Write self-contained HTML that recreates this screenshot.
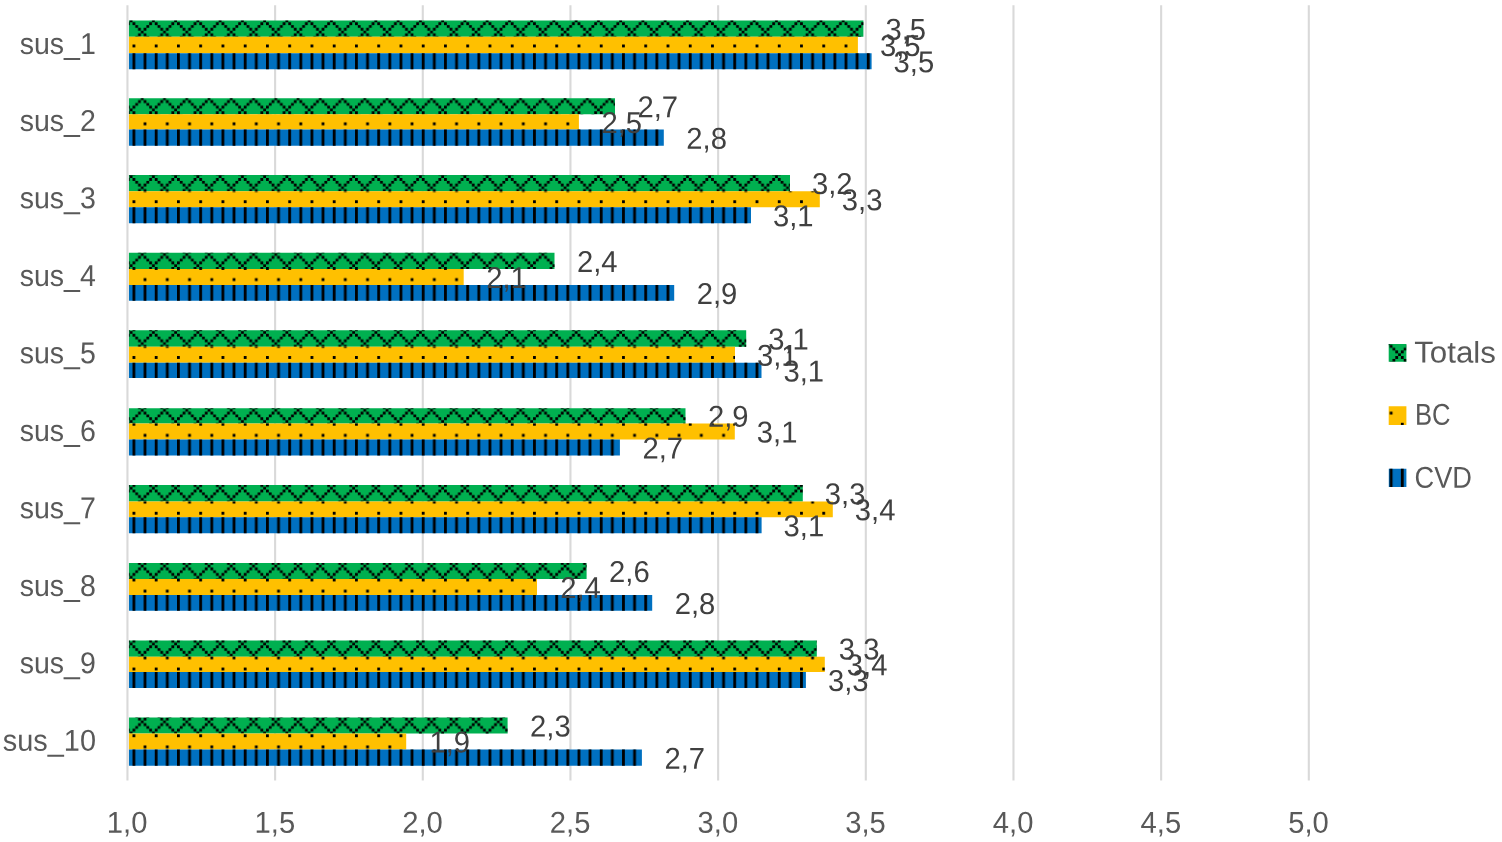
<!DOCTYPE html>
<html lang="en">
<head>
<meta charset="utf-8">
<title>SUS item scores: Totals, BC, CVD</title>
<style>
html,body{margin:0;padding:0;background:#fff}
body{width:1502px;height:842px;overflow:hidden}
svg{display:block}
text{font-family:"Liberation Sans",sans-serif;font-size:30.2px;text-rendering:geometricPrecision}
.ax{fill:#595959}
.dl{fill:#404040}
</style>
</head>
<body>
<svg width="1502" height="842" viewBox="0 0 1502 842" role="img" aria-label="Horizontal bar chart of SUS item scores">
<defs>
<pattern id="pg" patternUnits="userSpaceOnUse" width="8" height="8" patternTransform="translate(-1 0) scale(2.7815)"><path fill="#000" d="M0 0h1v1h-1zM6 0h1v1h-1zM1 1h1v1h-1zM5 1h1v1h-1zM2 2h1v1h-1zM4 2h1v1h-1zM3 3h1v1h-1zM2 4h1v1h-1zM4 4h1v1h-1zM1 5h1v1h-1zM5 5h1v1h-1zM0 6h1v1h-1zM6 6h1v1h-1zM7 7h1v1h-1z"/></pattern>
<clipPath id="cpg"><path d="M128.9 20.5h734.5v16.3h-734.5zM128.9 98.13h486.1v16.17h-486.1zM128.9 175h661.1v16.17h-661.1zM128.9 252.86h425.6v16.24h-425.6zM128.9 330.2h617.3v16.44h-617.3zM128.9 408.13h556.6v15.31h-556.6zM128.9 485h673.9v16.44h-673.9zM128.9 562.99h457.7v16.11h-457.7zM128.9 640.46h687.9v16.18h-687.9zM128.9 717.6h378.7v16h-378.7zM1388.7 344h17.7v17.8h-17.7z"/></clipPath>
<pattern id="py" patternUnits="userSpaceOnUse" width="8" height="8" patternTransform="translate(-1 0) scale(2.7815)"><path fill="#000" d="M0 0h1v1h-1zM4 4h1v1h-1z"/></pattern>
<clipPath id="cpy"><path d="M128.9 36.8h729v16.35h-729zM128.9 114.3h450v15.32h-450zM128.9 191.17h690.9v15.98h-690.9zM128.9 269.1h334.8v15.85h-334.8zM128.9 346.64h606.1v16.16h-606.1zM128.9 423.44h605.9v16.18h-605.9zM128.9 501.44h703.9v15.84h-703.9zM128.9 579.1h408.1v15.98h-408.1zM128.9 656.64h695.9v15.31h-695.9zM128.9 733.6h277.3v16h-277.3zM1388.7 406.3h17.7v18.6h-17.7z"/></clipPath>
<pattern id="pb" patternUnits="userSpaceOnUse" width="8" height="8" patternTransform="translate(-1 0) scale(2.7815)"><path fill="#000" d="M0 0h1v8h-1zM4 0h1v8h-1z"/></pattern>
<clipPath id="cpb"><path d="M128.9 53.15h742.7v16h-742.7zM128.9 129.62h534.9v16.13h-534.9zM128.9 207.15h622.1v16.11h-622.1zM128.9 284.95h545.3v15.85h-545.3zM128.9 362.8h632.6v15.3h-632.6zM128.9 439.62h491v15.98h-491zM128.9 517.28h632.7v15.98h-632.7zM128.9 595.08h523.3v15.72h-523.3zM128.9 671.95h677v15.98h-677zM128.9 749.6h513v16.2h-513zM1388.8 468.8h17.6v18.2h-17.6z"/></clipPath>
</defs>
<rect width="1502" height="842" fill="#fff"/>
<g stroke="#D9D9D9" stroke-width="2.1" fill="none">
<line x1="275.12" y1="5.2" x2="275.12" y2="780.6"/>
<line x1="422.79" y1="5.2" x2="422.79" y2="780.6"/>
<line x1="570.46" y1="5.2" x2="570.46" y2="780.6"/>
<line x1="718.13" y1="5.2" x2="718.13" y2="780.6"/>
<line x1="865.8" y1="5.2" x2="865.8" y2="780.6"/>
<line x1="1013.47" y1="5.2" x2="1013.47" y2="780.6"/>
<line x1="1161.14" y1="5.2" x2="1161.14" y2="780.6"/>
<line x1="1308.81" y1="5.2" x2="1308.81" y2="780.6"/>
</g>
<path fill="#00B050" d="M128.9 20.5h734.5v16.3h-734.5zM128.9 98.13h486.1v16.17h-486.1zM128.9 175h661.1v16.17h-661.1zM128.9 252.86h425.6v16.24h-425.6zM128.9 330.2h617.3v16.44h-617.3zM128.9 408.13h556.6v15.31h-556.6zM128.9 485h673.9v16.44h-673.9zM128.9 562.99h457.7v16.11h-457.7zM128.9 640.46h687.9v16.18h-687.9zM128.9 717.6h378.7v16h-378.7zM1388.7 344h17.7v17.8h-17.7z"/>
<rect width="1502" height="842" fill="url(#pg)" clip-path="url(#cpg)"/>
<path fill="#FFC000" d="M128.9 36.8h729v16.35h-729zM128.9 114.3h450v15.32h-450zM128.9 191.17h690.9v15.98h-690.9zM128.9 269.1h334.8v15.85h-334.8zM128.9 346.64h606.1v16.16h-606.1zM128.9 423.44h605.9v16.18h-605.9zM128.9 501.44h703.9v15.84h-703.9zM128.9 579.1h408.1v15.98h-408.1zM128.9 656.64h695.9v15.31h-695.9zM128.9 733.6h277.3v16h-277.3zM1388.7 406.3h17.7v18.6h-17.7z"/>
<rect width="1502" height="842" fill="url(#py)" clip-path="url(#cpy)"/>
<path fill="#0070C0" d="M128.9 53.15h742.7v16h-742.7zM128.9 129.62h534.9v16.13h-534.9zM128.9 207.15h622.1v16.11h-622.1zM128.9 284.95h545.3v15.85h-545.3zM128.9 362.8h632.6v15.3h-632.6zM128.9 439.62h491v15.98h-491zM128.9 517.28h632.7v15.98h-632.7zM128.9 595.08h523.3v15.72h-523.3zM128.9 671.95h677v15.98h-677zM128.9 749.6h513v16.2h-513zM1388.8 468.8h17.6v18.2h-17.6z"/>
<rect width="1502" height="842" fill="url(#pb)" clip-path="url(#cpb)"/>
<line x1="127.45" y1="5.2" x2="127.45" y2="780.6" stroke="#D9D9D9" stroke-width="2.1"/>
<g class="dl">
<text transform="matrix(0.968 0.0005 0 1 885.4 39.65)">3,5</text>
<text transform="matrix(0.968 0.0005 0 1 879.9 55.97)">3,5</text>
<text transform="matrix(0.968 0.0005 0 1 893.6 72.15)">3,5</text>
<text transform="matrix(0.968 0.0005 0 1 637.5 117.22)">2,7</text>
<text transform="matrix(0.968 0.0005 0 1 601.4 132.96)">2,5</text>
<text transform="matrix(0.968 0.0005 0 1 686.3 148.69)">2,8</text>
<text transform="matrix(0.968 0.0005 0 1 812 194.08)">3,2</text>
<text transform="matrix(0.968 0.0005 0 1 841.8 210.16)">3,3</text>
<text transform="matrix(0.968 0.0005 0 1 773 226.2)">3,1</text>
<text transform="matrix(0.968 0.0005 0 1 577 271.98)">2,4</text>
<text transform="matrix(0.968 0.0005 0 1 486.2 288.02)">2,1</text>
<text transform="matrix(0.968 0.0005 0 1 696.7 303.88)">2,9</text>
<text transform="matrix(0.968 0.0005 0 1 768.2 349.42)">3,1</text>
<text transform="matrix(0.968 0.0005 0 1 757 365.72)">3,1</text>
<text transform="matrix(0.968 0.0005 0 1 783.5 381.45)">3,1</text>
<text transform="matrix(0.968 0.0005 0 1 708 426.78)">2,9</text>
<text transform="matrix(0.968 0.0005 0 1 756.8 442.53)">3,1</text>
<text transform="matrix(0.968 0.0005 0 1 642.4 458.61)">2,7</text>
<text transform="matrix(0.968 0.0005 0 1 824.8 504.22)">3,3</text>
<text transform="matrix(0.968 0.0005 0 1 854.8 520.36)">3,4</text>
<text transform="matrix(0.968 0.0005 0 1 783.6 536.27)">3,1</text>
<text transform="matrix(0.968 0.0005 0 1 609.1 582.05)">2,6</text>
<text transform="matrix(0.968 0.0005 0 1 560.2 598.09)">2,4</text>
<text transform="matrix(0.968 0.0005 0 1 674.7 613.94)">2,8</text>
<text transform="matrix(0.968 0.0005 0 1 838.8 659.55)">3,3</text>
<text transform="matrix(0.968 0.0005 0 1 846.8 675.3)">3,4</text>
<text transform="matrix(0.968 0.0005 0 1 827.9 690.94)">3,3</text>
<text transform="matrix(0.968 0.0005 0 1 530.1 736.6)">2,3</text>
<text transform="matrix(0.968 0.0005 0 1 429.4 752.6)">1,9</text>
<text transform="matrix(0.968 0.0005 0 1 664.4 768.7)">2,7</text>
</g>
<g class="ax" text-anchor="end">
<text transform="matrix(0.945 0.0005 0 1 95.8 53.93)">sus_1</text>
<text transform="matrix(0.945 0.0005 0 1 95.8 131.04)">sus_2</text>
<text transform="matrix(0.945 0.0005 0 1 95.8 208.23)">sus_3</text>
<text transform="matrix(0.945 0.0005 0 1 95.8 285.93)">sus_4</text>
<text transform="matrix(0.945 0.0005 0 1 95.8 363.25)">sus_5</text>
<text transform="matrix(0.945 0.0005 0 1 95.8 440.97)">sus_6</text>
<text transform="matrix(0.945 0.0005 0 1 95.8 518.23)">sus_7</text>
<text transform="matrix(0.945 0.0005 0 1 95.8 596)">sus_8</text>
<text transform="matrix(0.945 0.0005 0 1 95.8 673.29)">sus_9</text>
<text transform="matrix(0.957 0.0005 0 1 96 750.8)">sus_10</text>
</g>
<g class="ax" text-anchor="middle">
<text transform="matrix(0.968 0.0005 0 1 127.15 832.7)">1,0</text>
<text transform="matrix(0.968 0.0005 0 1 274.82 832.7)">1,5</text>
<text transform="matrix(0.968 0.0005 0 1 422.49 832.7)">2,0</text>
<text transform="matrix(0.968 0.0005 0 1 570.16 832.7)">2,5</text>
<text transform="matrix(0.968 0.0005 0 1 717.83 832.7)">3,0</text>
<text transform="matrix(0.968 0.0005 0 1 865.5 832.7)">3,5</text>
<text transform="matrix(0.968 0.0005 0 1 1013.17 832.7)">4,0</text>
<text transform="matrix(0.968 0.0005 0 1 1160.84 832.7)">4,5</text>
<text transform="matrix(0.968 0.0005 0 1 1308.51 832.7)">5,0</text>
</g>
<g class="ax">
<text transform="matrix(1.037 0.0005 0 1 1414.2 362.6)">Totals</text>
<text transform="matrix(0.848 0.0005 0 1 1415 424.7)">BC</text>
<text transform="matrix(0.901 0.0005 0 1 1414.5 487.7)">CVD</text>
</g>
</svg>
</body>
</html>
